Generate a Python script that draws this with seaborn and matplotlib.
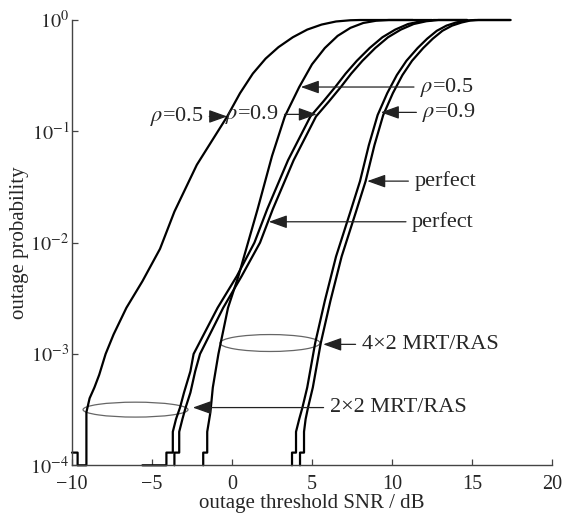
import matplotlib
matplotlib.use('Agg')
import matplotlib.pyplot as plt
import pandas as pd
import seaborn as sns
from matplotlib.patches import Ellipse
from matplotlib.transforms import blended_transform_factory

# outage threshold SNR (dB) vs outage probability
# 2x2 MRT/RAS, rho = 0.5
a_snr = [-10.0, -9.65, -9.65, -9.1, -9.1, -8.9, -8.6, -8.3, -7.9, -7.4, -6.6, -5.6,
         -4.5, -3.6, -2.2, -0.3, 0.5, 1.3, 2.1, 2.9, 3.8, 4.7, 5.6, 6.5, 7.4, 8.0, 11.3]
a_p = [1.3e-4, 1.3e-4, 1e-4, 1e-4, 3e-4, 4e-4, 5e-4, 6.5e-4, 1e-3, 1.5e-3, 2.6e-3, 4.5e-3,
       8.8e-3, 0.019, 0.05, 0.136, 0.22, 0.33, 0.45, 0.57, 0.70, 0.82, 0.91, 0.97, 0.995, 1.0, 1.0]
# 2x2 MRT/RAS, rho = 0.9
b_snr = [-5.6, -4.1, -4.1, -3.7, -3.7, -3.5, -3.25, -3.0, -2.6, -2.4, -0.9, 0.3,
         1.4, 2.2, 3.5, 4.9, 5.7, 6.45, 7.1, 7.8, 8.6, 9.4, 10.2, 11.0, 11.8, 12.6, 14.7]
b_p = [1e-4, 1e-4, 1.3e-4, 1.3e-4, 2e-4, 2.6e-4, 3.3e-4, 4.5e-4, 7e-4, 1e-3, 2.6e-3, 5e-3,
       1e-2, 0.02, 0.055, 0.136, 0.185, 0.25, 0.33, 0.43, 0.56, 0.70, 0.82, 0.92, 0.975, 1.0, 1.0]
# 2x2 MRT/RAS, perfect CSI
c_snr = [-3.6, -3.6, -3.3, -3.3, -3.1, -2.9, -2.6, -2.3, -2.0, -0.55, 0.6,
         1.75, 2.55, 3.85, 5.25, 6.05, 6.8, 7.45, 8.15, 8.95, 9.75, 10.55, 11.35, 12.15, 12.9, 14.7]
c_p = [1e-4, 1.3e-4, 1.3e-4, 2e-4, 2.6e-4, 3.3e-4, 4.5e-4, 7e-4, 1e-3, 2.6e-3, 5e-3,
       1e-2, 0.02, 0.055, 0.136, 0.185, 0.25, 0.33, 0.43, 0.56, 0.70, 0.82, 0.92, 0.975, 1.0, 1.0]
# 4x2 MRT/RAS, rho = 0.5
d_snr = [-1.8, -1.8, -1.55, -1.55, -1.35, -1.2, -0.85, -0.25, 0.4, 1.0, 1.6, 2.5,
         3.3, 4.2, 5.0, 5.8, 6.6, 7.4, 8.2, 9.0, 9.8, 12.5]
d_p = [1e-4, 1.3e-4, 1.3e-4, 2e-4, 3e-4, 5e-4, 1e-3, 2.6e-3, 5e-3, 1e-2, 0.02, 0.06,
       0.136, 0.25, 0.4, 0.56, 0.72, 0.85, 0.94, 0.985, 1.0, 1.0]
# 4x2 MRT/RAS, rho = 0.9
e_snr = [3.75, 3.75, 4.0, 4.0, 4.2, 4.4, 4.7, 5.2, 5.8, 6.5, 7.4, 8.0, 8.55, 9.1,
         9.7, 10.3, 10.9, 11.6, 12.2, 12.8, 13.4, 14.0, 14.6, 15.2, 17.4]
e_p = [1e-4, 1.3e-4, 1.3e-4, 2e-4, 2.6e-4, 3.3e-4, 5e-4, 1.26e-3, 3e-3, 7.5e-3, 0.019, 0.0357,
       0.075, 0.14, 0.22, 0.32, 0.43, 0.56, 0.68, 0.8, 0.89, 0.95, 0.99, 1.0, 1.0]
# 4x2 MRT/RAS, perfect CSI
f_snr = [4.25, 4.25, 4.5, 4.5, 4.6, 4.75, 5.05, 5.55, 6.15, 6.85, 7.75, 8.35, 8.9, 9.45,
         10.05, 10.65, 11.25, 11.95, 12.55, 13.15, 13.75, 14.35, 14.9, 15.4, 17.4]
f_p = [1e-4, 1.3e-4, 1.3e-4, 2e-4, 2.6e-4, 3.3e-4, 5e-4, 1.26e-3, 3e-3, 7.5e-3, 0.019, 0.0357,
       0.075, 0.14, 0.22, 0.32, 0.43, 0.56, 0.68, 0.8, 0.89, 0.95, 0.99, 1.0, 1.0]

x_ticks = [-10, -5, 0, 5, 10, 15, 20]
y_ticks = [1e-4, 1e-3, 1e-2, 1e-1, 1e0]
y_ticklabels = [r'$10^{-4}$', r'$10^{-3}$', r'$10^{-2}$', r'$10^{-1}$', r'$10^{0}$']

sns.set_theme(style='ticks')
plt.rcParams['font.family'] = ['Liberation Serif', 'DejaVu Serif']
plt.rcParams['mathtext.fontset'] = 'stix'

curves = [('2x2 rho=0.5', a_snr, a_p), ('2x2 rho=0.9', b_snr, b_p), ('2x2 perfect', c_snr, c_p),
          ('4x2 rho=0.5', d_snr, d_p), ('4x2 rho=0.9', e_snr, e_p), ('4x2 perfect', f_snr, f_p)]
df = pd.concat([pd.DataFrame({'snr': s, 'p': p, 'curve': n}) for n, s, p in curves],
               ignore_index=True)

fig = plt.figure(figsize=(5.67, 5.13), dpi=100)
ax = fig.add_axes([0.127, 0.093, 0.8466, 0.868])
ax.set_yscale('log')
sns.lineplot(data=df, x='snr', y='p', units='curve', estimator=None, sort=False,
             color='black', lw=1.6, ax=ax, clip_on=False)

ax.set_xlim(-10, 20)
ax.set_ylim(1e-4, 1)
ax.set_xticks(x_ticks)
ax.set_yticks(y_ticks)
ax.set_yticklabels(y_ticklabels)
ax.minorticks_off()
sns.despine(ax=ax)
for s in ['left', 'bottom']:
    ax.spines[s].set_color('#444444')
    ax.spines[s].set_linewidth(1.0)
ax.tick_params(direction='in', length=4, width=0.9, color='#444444', labelsize=14.5)
ax.tick_params(axis='x', pad=7)
ax.tick_params(axis='y', pad=2)
ax.set_xlabel('outage threshold SNR / dB', fontsize=15, labelpad=0)
ax.set_ylabel('outage probability', fontsize=15, labelpad=1)

arrow = dict(arrowstyle='-|>,head_length=0.7,head_width=0.25', color='#222222', lw=0.9,
             shrinkA=2, shrinkB=0)
fs = 16
ax.annotate(r'$\rho$=0.5', xy=(-0.3, 0.136), xytext=(-1.8, 0.136), ha='right', va='center',
            fontsize=fs, arrowprops=arrow)
ax.annotate(r'$\rho$=0.9', xy=(5.3, 0.142), xytext=(2.9, 0.142), ha='right', va='center',
            fontsize=fs, arrowprops=arrow)
ax.annotate(r'$\rho$=0.5', xy=(4.3, 0.25), xytext=(11.75, 0.25), ha='left', va='center',
            fontsize=fs, arrowprops=arrow)
ax.annotate(r'$\rho$=0.9', xy=(9.3, 0.148), xytext=(11.9, 0.148), ha='left', va='center',
            fontsize=fs, arrowprops=arrow)
ax.annotate('perfect', xy=(8.45, 0.0357), xytext=(11.4, 0.0357), ha='left', va='center',
            fontsize=fs, arrowprops=arrow)
ax.annotate('perfect', xy=(2.3, 0.0154), xytext=(11.25, 0.0154), ha='left', va='center',
            fontsize=fs, arrowprops=arrow)
ax.annotate('4×2 MRT/RAS', xy=(5.7, 1.22e-3), xytext=(8.1, 1.22e-3), ha='left', va='center',
            fontsize=fs, arrowprops=arrow)
ax.annotate('2×2 MRT/RAS', xy=(-2.45, 3.3e-4), xytext=(6.1, 3.3e-4), ha='left', va='center',
            fontsize=fs, arrowprops=arrow)

# group ellipses: x in data, y in axes fraction
trans = blended_transform_factory(ax.transData, ax.transAxes)
ax.add_patch(Ellipse((2.375, 0.2746), 6.25, 0.038, transform=trans, fill=False,
                     edgecolor='#666666', lw=0.9))
ax.add_patch(Ellipse((-6.03, 0.125), 6.56, 0.0335, transform=trans, fill=False,
                     edgecolor='#666666', lw=0.9))

fig.savefig('out.png', dpi=100)
